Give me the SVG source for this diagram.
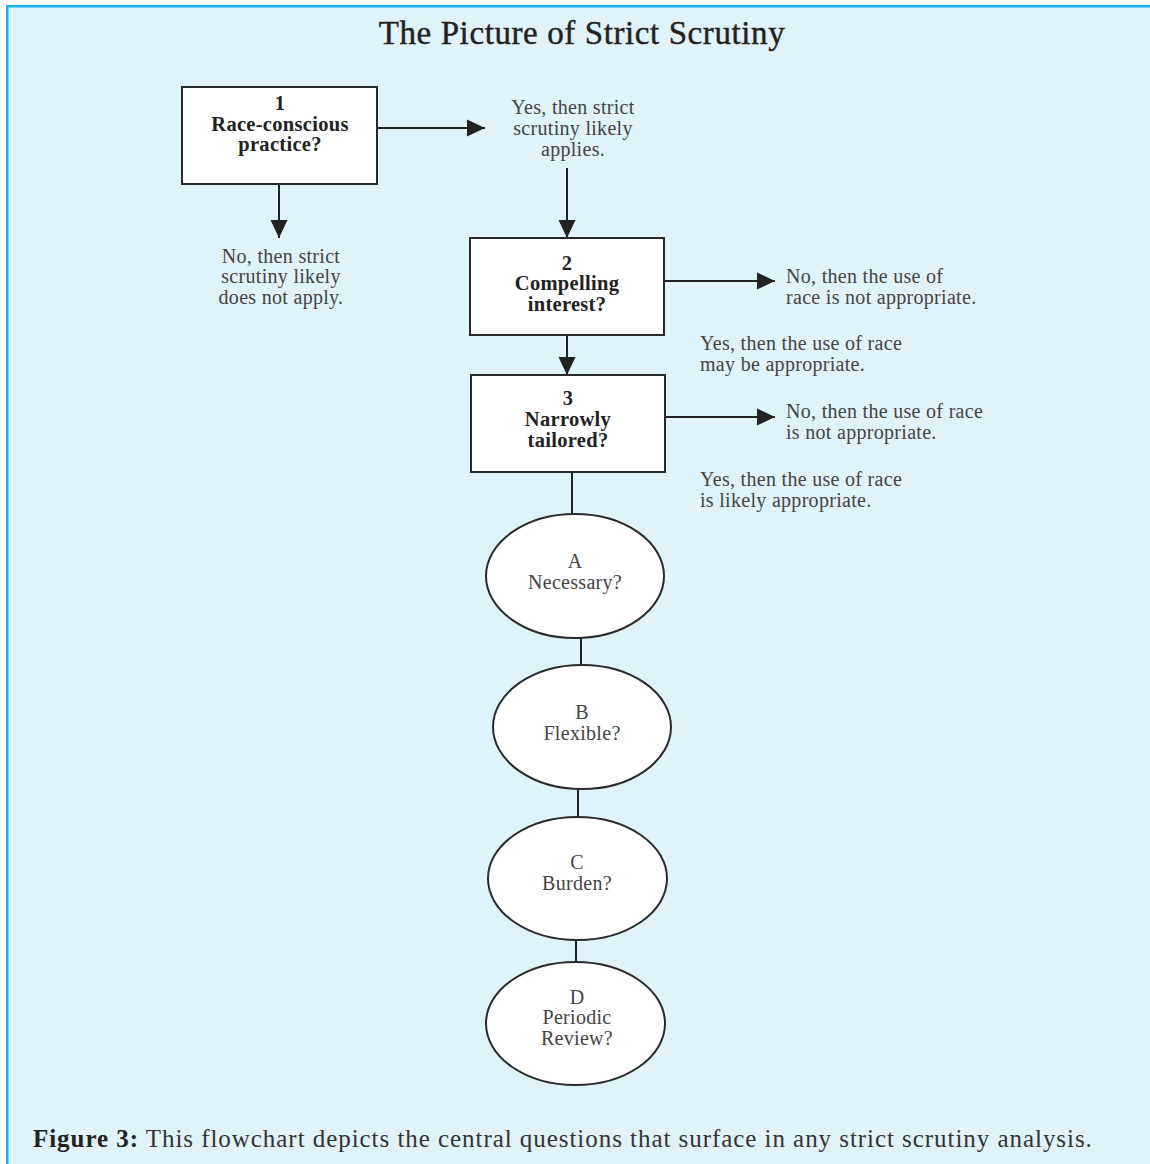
<svg xmlns="http://www.w3.org/2000/svg" width="1150" height="1164" viewBox="0 0 1150 1164">
<style>
.bg{fill:#e0f2fa}
.bd{stroke:#1ab0ee;stroke-width:2.5;fill:none}
.box{fill:#fff;stroke:#2a2a2a;stroke-width:2}
.ell{fill:#fff;stroke:#2a2a2a;stroke-width:2}
.ln{stroke:#222;stroke-width:2;fill:none}
.b{font-family:"Liberation Serif",serif;font-weight:bold;font-size:20.5px;letter-spacing:0.3px;fill:#222;text-anchor:middle}
.t{font-family:"Liberation Serif",serif;font-size:20px;letter-spacing:0.3px;fill:#444}
.c{text-anchor:middle}
.title{font-family:"Liberation Serif",serif;font-size:33px;letter-spacing:0.6px;fill:#222;stroke:#222;stroke-width:0.4;text-anchor:middle}
.cap{font-family:"Liberation Serif",serif;font-size:25px;letter-spacing:0.95px;fill:#333}
</style>
<defs>
<marker id="ah" markerUnits="userSpaceOnUse" markerWidth="18" markerHeight="18" refX="18" refY="9" orient="auto">
<path d="M0,0.5 L18,9 L0,17.5 z" fill="#222"/>
</marker>
</defs>
<rect x="0" y="0" width="1150" height="1164" fill="#fff"/>
<rect class="bg" x="7" y="6" width="1143" height="1158"/>
<path class="bd" d="M7.25,1164 V6.25 H1150"/>
<text class="title" x="582" y="44">The Picture of Strict Scrutiny</text>

<g id="connectors">
<line class="ln" x1="377" y1="128" x2="485" y2="128" marker-end="url(#ah)"/>
<line class="ln" x1="279" y1="184" x2="279" y2="238" marker-end="url(#ah)"/>
<line class="ln" x1="567" y1="168" x2="567" y2="238" marker-end="url(#ah)"/>
<line class="ln" x1="664" y1="281" x2="775" y2="281" marker-end="url(#ah)"/>
<line class="ln" x1="567" y1="335" x2="567" y2="375" marker-end="url(#ah)"/>
<line class="ln" x1="665" y1="417" x2="775" y2="417" marker-end="url(#ah)"/>
<line class="ln" x1="572" y1="472" x2="572" y2="514"/>
<line class="ln" x1="581" y1="638" x2="581" y2="665"/>
<line class="ln" x1="578" y1="789" x2="578" y2="817"/>
<line class="ln" x1="576" y1="940" x2="576" y2="962"/>
</g>

<g id="n1">
<rect class="box" x="182" y="87" width="195" height="97"/>
<text class="b" x="280" y="110">1</text>
<text class="b" x="280" y="131">Race-conscious</text>
<text class="b" x="280" y="151">practice?</text>
</g>
<g id="yes1">
<text class="t c" x="573" y="114">Yes, then strict</text>
<text class="t c" x="573" y="135">scrutiny likely</text>
<text class="t c" x="573" y="156">applies.</text>
</g>
<g id="no1">
<text class="t c" x="281" y="263">No, then strict</text>
<text class="t c" x="281" y="283">scrutiny likely</text>
<text class="t c" x="281" y="304">does not apply.</text>
</g>
<g id="n2">
<rect class="box" x="470" y="238" width="194" height="97"/>
<text class="b" x="567" y="270">2</text>
<text class="b" x="567" y="290">Compelling</text>
<text class="b" x="567" y="311">interest?</text>
</g>
<g id="no2">
<text class="t" x="786" y="283">No, then the use of</text>
<text class="t" x="786" y="304">race is not appropriate.</text>
</g>
<g id="yes2">
<text class="t" x="700" y="350">Yes, then the use of race</text>
<text class="t" x="700" y="371">may be appropriate.</text>
</g>
<g id="n3">
<rect class="box" x="471" y="375" width="194" height="97"/>
<text class="b" x="568" y="405">3</text>
<text class="b" x="568" y="426">Narrowly</text>
<text class="b" x="568" y="447">tailored?</text>
</g>
<g id="no3">
<text class="t" x="786" y="418">No, then the use of race</text>
<text class="t" x="786" y="439">is not appropriate.</text>
</g>
<g id="yes3">
<text class="t" x="700" y="486">Yes, then the use of race</text>
<text class="t" x="700" y="507">is likely appropriate.</text>
</g>
<g id="nA">
<ellipse class="ell" cx="575" cy="576" rx="89" ry="62"/>
<text class="t c" x="575" y="568">A</text>
<text class="t c" x="575" y="589">Necessary?</text>
</g>
<g id="nB">
<ellipse class="ell" cx="582" cy="727" rx="89" ry="62"/>
<text class="t c" x="582" y="719">B</text>
<text class="t c" x="582" y="740">Flexible?</text>
</g>
<g id="nC">
<ellipse class="ell" cx="577.5" cy="878.5" rx="89.5" ry="61.5"/>
<text class="t c" x="577" y="869">C</text>
<text class="t c" x="577" y="890">Burden?</text>
</g>
<g id="nD">
<ellipse class="ell" cx="575.5" cy="1023.5" rx="89.5" ry="61.5"/>
<text class="t c" x="577" y="1004">D</text>
<text class="t c" x="577" y="1024">Periodic</text>
<text class="t c" x="577" y="1045">Review?</text>
</g>
<text class="cap" x="33" y="1147"><tspan font-weight="bold" fill="#222">Figure 3:</tspan> This flowchart depicts the central questions that surface in any strict scrutiny analysis.</text>
</svg>
